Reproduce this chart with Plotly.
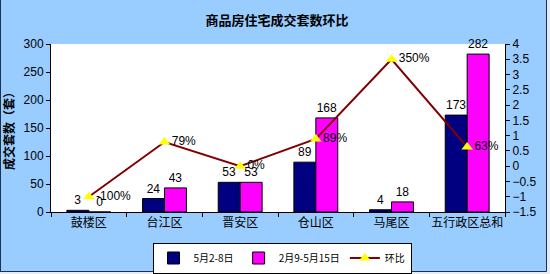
import plotly.graph_objects as go

categories = ["鼓楼区", "台江区", "晋安区", "仓山区", "马尾区", "五行政区总和"]
week_may = [3, 24, 53, 89, 4, 173]
period_feb_may = [0, 43, 53, 168, 18, 282]
ratio = [-1.0, 0.79, 0.0, 0.89, 3.5, 0.63]
ratio_labels = ["-100%", "79%", "0%", "89%", "350%", "63%"]
left_ticks = [0, 50, 100, 150, 200, 250, 300]
right_ticks = [-1.5, -1, -0.5, 0, 0.5, 1, 1.5, 2, 2.5, 3, 3.5, 4]

num_font = "Liberation Sans, Arial, sans-serif"
cjk_font = "Noto Sans CJK SC, sans-serif"

fig = go.Figure()
fig.add_trace(go.Bar(
    x=categories, y=week_may, name="5月2-8日",
    marker=dict(color="#000080", line=dict(color="#000000", width=1)),
    text=[str(v) for v in week_may], textposition="outside",
    textfont=dict(color="#000000", size=12, family=num_font), cliponaxis=False,
))
fig.add_trace(go.Bar(
    x=categories, y=period_feb_may, name="2月9-5月15日",
    marker=dict(color="#FF00FF", line=dict(color="#000000", width=1)),
    text=[str(v) for v in period_feb_may], textposition="outside",
    textfont=dict(color="#000000", size=12, family=num_font), cliponaxis=False,
))
fig.add_trace(go.Scatter(
    x=categories, y=ratio, name="环比", yaxis="y2",
    mode="lines+markers+text",
    line=dict(color="#800000", width=2),
    marker=dict(symbol="triangle-up", color="#FFFF00", size=10, line=dict(width=0)),
    text=ratio_labels, textposition="middle right",
    textfont=dict(color="#000000", size=12, family=num_font), cliponaxis=False,
))

W, H = 550, 274
L, R, T, B = 51, 45, 44, 62
pw, ph = W - L - R, H - T - B

def px_x(p):
    return (p - L) / pw

def px_y(p):
    return (H - B - p) / ph

fig.update_layout(
    width=W, height=H,
    margin=dict(l=L, r=R, t=T, b=B, autoexpand=False),
    paper_bgcolor="#99CCFF", plot_bgcolor="#FFFFFF",
    barmode="group", bargap=0.42, bargroupgap=0,
    showlegend=True,
    title=dict(text="<b>商品房住宅成交套数环比</b>", x=px_x(277), xref="paper", xanchor="center",
               y=1 - 20 / H, yanchor="middle", yref="container",
               font=dict(family=cjk_font, size=13, color="#000000")),
    font=dict(family=num_font, size=12, color="#000000"),
    xaxis=dict(
        type="category", showline=True, linecolor="#000000", linewidth=1,
        ticks="outside", tickson="boundaries", ticklen=4, tickcolor="#000000",
        tickangle=0,
        tickfont=dict(family=cjk_font, size=12, color="#000000"),
        showgrid=False, mirror=False,
    ),
    yaxis=dict(
        range=[0, 300], tickvals=left_ticks, showline=True, linecolor="#000000", linewidth=1,
        ticks="outside", ticklen=4, tickcolor="#000000", showgrid=False, zeroline=False,
        tickfont=dict(family=num_font, size=12, color="#000000"),
        title=dict(text="<b>成交套数（套）</b>", font=dict(family=cjk_font, size=12, color="#000000"),
                   standoff=6),
    ),
    yaxis2=dict(
        range=[-1.5, 4], tickvals=right_ticks, overlaying="y", side="right",
        showline=True, linecolor="#000000", linewidth=1,
        ticks="outside", ticklen=4, tickcolor="#000000", showgrid=False, zeroline=False,
        tickfont=dict(family=num_font, size=12, color="#000000"),
    ),
    legend=dict(
        orientation="h", x=px_x(282), xanchor="center", y=px_y(258), yanchor="middle",
        bgcolor="#FFFFFF", bordercolor="#000000", borderwidth=1,
        font=dict(family=cjk_font, size=10, color="#000000"),
        itemwidth=30, tracegroupgap=0,
    ),
    shapes=[
        dict(type="line", xref="paper", yref="paper", x0=px_x(0.5), x1=px_x(0.5), y0=px_y(0), y1=px_y(271.5),
             line=dict(color="#1F2F4F", width=1), layer="above"),
        dict(type="line", xref="paper", yref="paper", x0=px_x(546.5), x1=px_x(546.5), y0=px_y(0), y1=px_y(271.5),
             line=dict(color="#1F2F4F", width=1), layer="above"),
        dict(type="line", xref="paper", yref="paper", x0=px_x(0), x1=px_x(546.5), y0=px_y(271.5), y1=px_y(271.5),
             line=dict(color="#1F2F4F", width=1), layer="above"),
        dict(type="rect", xref="paper", yref="paper", x0=px_x(547), x1=px_x(550), y0=px_y(0), y1=px_y(274),
             fillcolor="#E8ECF0", line=dict(width=0), layer="above"),
        dict(type="rect", xref="paper", yref="paper", x0=px_x(0), x1=px_x(550), y0=px_y(272), y1=px_y(274),
             fillcolor="#E8ECF0", line=dict(width=0), layer="above"),
    ],
)

fig.write_html("out.html")
